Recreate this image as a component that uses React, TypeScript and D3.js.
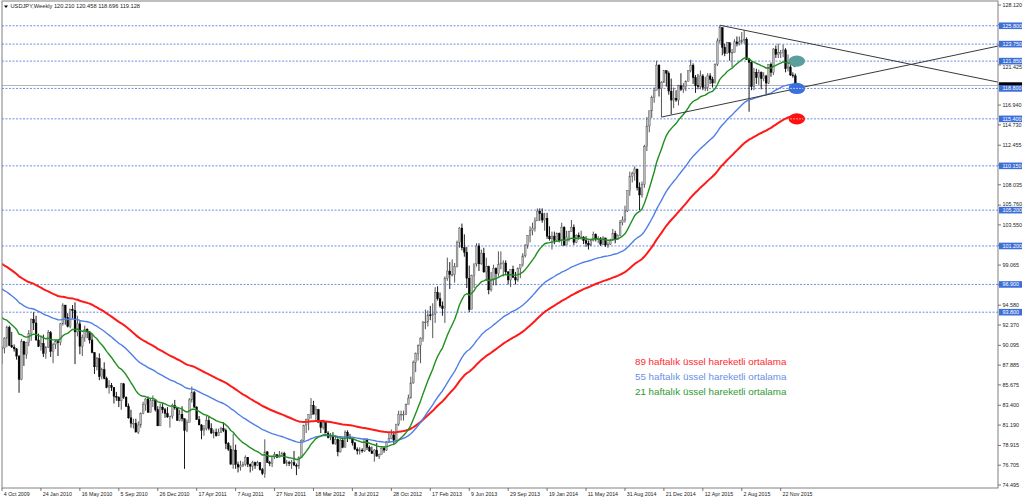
import React from "react";
import * as d3 from "d3";

// ---------- DATA ----------
const symbolTitle = "USDJPY,Weekly";
const firstWeek = "2009-10-04"; // Sunday of first weekly bar
const firstOpen = 89.75;

// weekly highs (Oct 2009 .. Jan 2016)
const weeklyHigh = [
  // 2009
  90.0, 91.0, 92.3, 92.3, 91.6, 90.2, 89.8, 89.0, 90.8, 90.6, 90.5, 91.8,
  // 2010
  93.1, 93.8, 93.4, 91.4, 91.2, 91.3, 90.0, 91.8, 91.7, 90.4, 90.7, 90.8, 92.6,
  94.8, 94.4, 93.7, 94.2, 94.6, 94.9, 93.4, 92.8, 91.3, 92.3, 92.0, 91.7, 91.4,
  89.3, 88.8, 89.2, 87.6, 88.2, 86.6, 86.2, 85.9, 85.4, 84.9, 84.4, 85.9, 85.9,
  84.4, 83.6, 82.9, 81.9, 81.9, 81.6, 82.6, 83.8, 84.2, 84.4, 84.2, 84.5, 84.1, 83.3,
  // 2011
  83.6, 83.6, 83.1, 83.2, 82.2, 83.6, 84.0, 83.2, 82.9, 83.3, 81.9, 81.8, 84.2,
  85.5, 85.0, 83.3, 82.2, 81.3, 81.2, 82.2, 82.1, 81.4, 80.7, 80.8, 80.8, 81.0,
  81.5, 80.8, 79.3, 78.9, 80.2, 79.0, 77.1, 77.2, 77.1, 77.8, 77.6, 76.9, 77.2,
  77.1, 77.2, 77.0, 76.4, 79.6, 78.3, 77.2, 77.7, 78.2, 77.9, 78.3, 78.2, 78.2,
  // 2012
  77.3, 77.2, 77.3, 78.3, 76.9, 77.7, 79.6, 81.2, 81.9, 82.4, 84.2, 83.9, 83.3,
  83.0, 81.6, 81.8, 81.6, 80.5, 80.3, 80.4, 79.9, 79.7, 79.7, 79.8, 80.6, 80.6,
  80.2, 79.8, 79.3, 78.7, 78.7, 78.6, 79.7, 79.7, 78.9, 78.8, 78.5, 79.2, 78.0,
  78.7, 78.8, 79.4, 80.4, 80.7, 80.5, 81.3, 82.8, 82.8, 82.8, 83.6, 84.6, 86.6,
  // 2013
  88.4, 89.3, 90.2, 91.0, 92.8, 94.1, 94.0, 94.5, 94.8, 96.6, 96.7, 96.0, 95.0,
  97.8, 99.9, 99.4, 99.7, 99.3, 101.8, 103.3, 103.7, 102.5, 101.1, 99.0, 98.0, 99.2,
  101.5, 101.5, 100.8, 101.0, 99.9, 99.0, 98.3, 99.1, 98.8, 100.6, 100.6, 99.6, 99.6,
  98.4, 98.6, 99.0, 98.3, 98.8, 99.1, 100.4, 101.4, 102.4, 103.4, 103.8, 104.4, 105.4,
  // 2014
  105.4, 105.4, 104.9, 104.9, 103.4, 102.8, 102.8, 102.7, 102.7, 103.8, 103.4, 102.9, 102.9,
  104.1, 103.6, 102.5, 102.7, 102.9, 102.3, 102.3, 101.8, 102.0, 102.8, 102.6, 102.3, 102.2,
  102.3, 102.1, 101.7, 102.0, 103.1, 102.9, 102.5, 104.1, 104.5, 105.7, 107.4, 109.5, 109.5,
  110.1, 109.2, 108.3, 108.4, 112.5, 115.6, 116.3, 118.0, 118.9, 121.9, 121.5, 119.6, 120.8,
  // 2015
  120.8, 120.7, 119.9, 118.9, 118.6, 119.2, 120.5, 119.4, 119.7, 120.8, 122.0, 121.6, 120.3,
  120.4, 120.8, 120.4, 120.1, 120.5, 120.5, 120.1, 121.6, 124.4, 125.86, 125.4, 123.8, 124.0,
  123.9, 123.2, 124.3, 124.6, 124.6, 125.1, 125.3, 124.5, 122.0, 121.8, 121.1, 121.0, 120.9,
  120.7, 120.6, 120.3, 121.5, 121.7, 123.3, 123.6, 123.8, 123.1, 123.7, 123.3, 122.6, 121.4,
  // 2016
  120.6, 120.458,
];

// weekly lows
const weeklyLow = [
  // 2009
  88.0, 89.2, 89.9, 90.0, 89.8, 89.4, 88.5, 84.8, 86.2, 87.8, 88.6, 90.0,
  // 2010
  90.6, 91.8, 90.6, 89.9, 89.5, 88.8, 88.6, 89.8, 88.8, 88.1, 89.7, 88.9, 90.1,
  92.3, 92.4, 92.1, 92.0, 93.1, 88.0, 91.1, 89.1, 88.9, 90.5, 90.9, 90.3, 89.2,
  86.9, 87.3, 86.2, 86.3, 86.3, 85.3, 84.7, 85.0, 83.6, 83.9, 83.2, 82.9, 84.1,
  83.2, 81.9, 80.9, 80.8, 80.4, 80.2, 80.9, 82.4, 82.8, 82.6, 82.7, 83.2, 82.7, 81.1,
  // 2011
  81.2, 82.5, 82.0, 82.0, 80.9, 81.9, 82.9, 81.7, 81.6, 81.6, 76.3, 80.4, 81.5,
  83.7, 83.1, 81.8, 81.2, 79.6, 80.0, 80.6, 80.6, 80.2, 79.7, 79.9, 80.0, 80.3,
  80.4, 78.5, 78.3, 76.8, 76.3, 76.3, 75.9, 76.1, 76.5, 76.6, 76.5, 75.9, 76.1,
  76.3, 76.6, 76.1, 75.6, 75.3, 77.0, 76.6, 76.5, 77.4, 77.5, 77.6, 77.8, 76.9,
  // 2012
  76.6, 76.6, 76.3, 76.7, 75.6, 76.3, 77.5, 79.4, 80.3, 80.6, 81.9, 82.4, 81.6,
  81.5, 80.3, 80.7, 80.3, 79.7, 79.5, 79.0, 79.0, 77.7, 78.1, 78.6, 78.8, 79.3,
  79.6, 78.9, 78.4, 77.9, 77.9, 78.1, 78.2, 78.4, 78.2, 78.0, 77.1, 77.7, 77.4,
  77.9, 78.1, 78.3, 79.2, 79.6, 79.1, 79.4, 81.1, 81.7, 81.7, 82.3, 83.6, 84.8,
  // 2013
  85.8, 87.1, 88.4, 88.1, 90.5, 91.9, 92.2, 92.9, 90.9, 92.6, 95.1, 94.3, 93.4,
  92.6, 97.3, 96.4, 97.8, 97.1, 98.8, 101.0, 100.7, 100.0, 96.5, 93.8, 94.1, 96.5,
  98.9, 98.4, 99.1, 98.2, 97.3, 95.8, 96.1, 96.8, 96.8, 97.8, 98.6, 97.8, 98.0,
  96.9, 96.6, 97.6, 96.9, 97.2, 97.6, 98.9, 99.9, 100.9, 101.6, 102.4, 102.8, 104.0,
  // 2014
  104.0, 103.8, 102.9, 102.0, 101.8, 100.8, 101.4, 101.7, 101.6, 101.2, 101.2, 101.4, 101.7,
  102.8, 101.3, 101.5, 101.9, 101.9, 101.4, 101.1, 100.8, 101.2, 101.7, 101.7, 101.5, 101.2,
  101.3, 101.1, 101.0, 101.3, 101.8, 101.5, 101.9, 102.3, 103.5, 103.8, 105.0, 106.8, 108.3,
  108.5, 107.4, 105.2, 106.6, 107.7, 111.8, 113.9, 115.5, 117.2, 118.6, 117.9, 115.6, 119.4,
  // 2015
  119.0, 118.1, 115.9, 116.6, 117.3, 116.9, 118.5, 118.3, 118.5, 119.6, 120.6, 119.3, 118.3,
  118.7, 118.7, 118.6, 118.5, 118.5, 119.3, 118.9, 119.9, 121.3, 123.8, 122.5, 122.4, 122.7,
  121.9, 121.2, 122.8, 123.5, 123.6, 123.8, 123.8, 122.0, 116.2, 118.6, 118.6, 119.3, 119.2,
  118.7, 119.6, 118.1, 119.3, 120.1, 120.3, 122.2, 122.2, 122.2, 122.3, 120.6, 120.7, 120.2,
  // 2016
  120.0, 118.696,
];

// weekly closes
const weeklyClose = [
  // 2009
  89.8, 90.9, 92.1, 90.1, 89.9, 89.7, 88.9, 86.3, 90.5, 89.1, 90.4, 91.4,
  // 2010
  93.0, 92.6, 90.7, 90.0, 90.3, 89.2, 89.9, 91.5, 89.4, 90.2, 90.5, 90.4, 92.5,
  94.6, 93.2, 92.2, 94.1, 94.0, 91.6, 92.5, 90.0, 91.0, 91.9, 91.6, 90.7, 89.3,
  87.7, 88.6, 86.6, 87.4, 86.4, 85.4, 85.6, 85.4, 84.4, 84.3, 83.9, 85.8, 84.3,
  83.3, 82.0, 81.4, 81.4, 80.4, 81.2, 82.5, 83.5, 84.1, 82.6, 83.9, 84.0, 82.9, 81.1,
  // 2011
  83.2, 82.9, 82.5, 82.1, 82.2, 83.4, 83.1, 81.7, 82.4, 81.9, 80.6, 81.5, 84.0,
  84.8, 83.2, 81.8, 81.2, 80.6, 80.8, 81.7, 80.8, 80.3, 80.4, 80.0, 80.4, 80.8,
  80.6, 79.1, 78.5, 76.8, 78.4, 76.8, 76.5, 76.7, 76.8, 77.6, 76.8, 76.6, 77.0,
  76.7, 77.0, 76.2, 75.8, 78.2, 77.0, 76.9, 77.7, 77.9, 77.6, 77.8, 78.0, 76.9,
  // 2012
  77.0, 76.9, 77.0, 76.7, 76.6, 77.6, 79.5, 81.2, 81.8, 82.4, 83.4, 82.4, 82.9,
  81.5, 80.9, 81.5, 80.3, 79.8, 79.9, 79.1, 79.6, 78.2, 79.5, 78.7, 80.4, 79.8,
  79.7, 79.2, 78.5, 78.3, 78.4, 78.3, 79.6, 78.7, 78.3, 78.0, 78.4, 77.7, 77.9,
  78.6, 78.4, 79.3, 79.7, 80.1, 79.5, 81.3, 82.4, 82.4, 82.4, 83.5, 84.2, 85.9,
  // 2013
  88.2, 89.2, 90.1, 90.9, 92.7, 92.7, 93.5, 93.4, 93.6, 96.0, 95.3, 94.5, 94.2,
  97.6, 98.4, 98.0, 98.0, 98.9, 101.6, 103.2, 101.0, 100.5, 97.6, 94.1, 97.9, 99.2,
  101.2, 99.2, 100.4, 98.3, 98.9, 96.3, 97.5, 98.7, 98.1, 99.1, 99.3, 99.3, 98.3,
  97.4, 98.6, 97.7, 97.4, 98.7, 99.1, 100.1, 101.3, 102.4, 102.9, 103.2, 104.0, 105.1,
  // 2014
  104.8, 104.1, 104.3, 102.3, 102.0, 102.3, 101.8, 102.6, 101.8, 103.3, 101.3, 102.2, 102.8,
  103.3, 101.6, 102.4, 102.2, 102.2, 101.8, 101.5, 101.3, 101.8, 102.5, 102.0, 102.0, 101.4,
  102.1, 101.3, 101.4, 101.8, 102.6, 102.0, 102.4, 103.8, 104.1, 105.1, 107.4, 109.0, 109.3,
  109.8, 107.7, 106.9, 108.1, 112.3, 114.6, 116.3, 117.8, 118.6, 121.4, 118.8, 119.5, 120.8,
  // 2015
  120.5, 118.5, 117.5, 117.7, 117.5, 119.1, 118.7, 119.0, 119.6, 120.8, 121.4, 120.0, 119.1,
  119.0, 120.2, 118.9, 118.9, 120.2, 119.8, 119.4, 121.5, 124.1, 125.6, 123.4, 122.7, 123.9,
  122.8, 122.8, 124.0, 123.8, 124.0, 124.2, 124.3, 122.0, 121.7, 119.0, 120.6, 120.0, 120.6,
  119.9, 120.2, 119.4, 121.5, 120.6, 123.2, 122.6, 122.8, 122.8, 123.1, 121.0, 121.2, 120.3,
  // 2016
  120.21, 119.128,
];

// horizontal support / resistance levels
const levelLines = [125.8, 123.75, 121.85, 118.8, 115.4, 110.15, 105.2, 101.2, 96.9, 93.8];

// right price-axis tick labels
const yTickValues = [
  128.12, 125.91, 123.635, 121.425, 119.215, 116.94, 114.73, 112.455, 110.245, 108.035,
  105.76, 103.55, 101.275, 99.065, 96.855, 94.58, 92.37, 90.095, 87.885, 85.675,
  83.4, 81.19, 78.915, 76.705, 74.495,
];

// bottom time-axis tick labels
const xTickLabels = [
  "4 Oct 2009", "24 Jan 2010", "16 May 2010", "5 Sep 2010", "26 Dec 2010", "17 Apr 2011",
  "7 Aug 2011", "27 Nov 2011", "18 Mar 2012", "8 Jul 2012", "28 Oct 2012", "17 Feb 2013",
  "9 Jun 2013", "29 Sep 2013", "19 Jan 2014", "11 May 2014", "31 Aug 2014", "21 Dec 2014",
  "12 Apr 2015", "2 Aug 2015", "22 Nov 2015",
];

// moving averages: period, value at first bar, colour, legend
const emaPeriods = [89, 55, 21];
const emaSeeds = [99.2, 96.4, 93.2];
const emaColors = ["#ff1a1a", "#4f7fe6", "#1f8f1f"];
const emaWidths = [2, 1.4, 1.4];
const legendLabels = [
  "89 haftalık üssel hareketli ortalama",
  "55 haftalık üssel hareketli ortalama",
  "21 haftalık üssel hareketli ortalama",
];
const legendColors = ["#ff2a2a", "#6a8fe6", "#2f9a2f"];

// trend lines (anchor week, price) -> extended to the right edge
const trendLines = [
  [{ week: "2014-12-14", price: 115.6 }, { week: "2015-11-22", price: 118.41 }],
  [{ week: "2015-05-31", price: 125.86 }, { week: "2015-11-22", price: 124.47 }],
];

// marker ellipses at EMA levels
const markerLevels = [121.85, 118.8, 115.4];
const markerColors = ["#5a9e9e", "#3b6fdc", "#ff0f0f"];

// ---------- LAYOUT ----------
const W = 1024;
const H = 501;
const plotLeft = 2;
const plotRight = 998;
const plotTop = 1;
const plotBottom = 488;
const smallFont = "'Liberation Sans', Arial, sans-serif";

const parseWeek = d3.utcParse("%Y-%m-%d");
const parseLabel = d3.utcParse("%d %b %Y");
const startDate = parseWeek(firstWeek) as Date;

const x = d3
  .scaleUtc()
  .domain([startDate, parseLabel("22 Nov 2015") as Date])
  .range([2, 780.7]);
const y = d3.scaleLinear().domain([74.495, 128.12]).range([485, 5]);

const bars = weeklyClose.map((c, i) => {
  const open = i === 0 ? firstOpen : weeklyClose[i - 1];
  return {
    date: d3.utcWeek.offset(startDate, i),
    open,
    close: c,
    high: Math.max(weeklyHigh[i], open, c),
    low: Math.min(weeklyLow[i], open, c),
  };
});

function ema(values: number[], period: number, seed: number) {
  const k = 2 / (period + 1);
  let e = seed;
  return values.map((v, i) => {
    if (i > 0) e = e + k * (v - e);
    return e;
  });
}

const emaSeries = emaPeriods.map((p, j) => ema(weeklyClose, p, emaSeeds[j]));

export default function App() {
  const fmt = d3.format(".3f");
  const last = bars[bars.length - 1];
  const line = d3
    .line<number>()
    .x((_, i) => x(bars[i].date))
    .y((v) => y(v));

  const lastX = x(last.date);
  // axis labels hidden beneath the level / price boxes are not drawn
  const boxed = [...levelLines, last.close];
  const visibleTicks = yTickValues.filter((v) => boxed.every((b) => Math.abs(y(v) - y(b)) > 3.2));
  // labels peeking out just below/above a box are nudged clear of it
  const tickTextY = (v: number) => {
    const yy = y(v);
    let off = 0;
    boxed.forEach((b) => {
      const d = yy - y(b);
      if (d > 0 && d < 6) off = 6 - d;
      if (d < 0 && d > -6) off = -(6 + d);
    });
    return yy + off + 2;
  };

  return (
    <svg
      width={W}
      height={H}
      style={{ position: "absolute", left: 0, top: 0, background: "#fff" }}
      fontFamily={smallFont}
    >
      <defs>
        <clipPath id="plot">
          <rect x={plotLeft} y={plotTop} width={plotRight - plotLeft} height={plotBottom - plotTop} />
        </clipPath>
      </defs>
      <rect x={0} y={0} width={W} height={H} fill="#fff" />

      <g clipPath="url(#plot)">
        {/* level lines */}
        {levelLines.map((v) => (
          <line
            key={v}
            x1={plotLeft}
            x2={plotRight}
            y1={y(v)}
            y2={y(v)}
            stroke="#6f8fe6"
            strokeWidth={1}
            strokeDasharray="2 1.5"
          />
        ))}
        {/* bid line */}
        <line x1={plotLeft} x2={plotRight} y1={y(last.close)} y2={y(last.close)} stroke="#b4b4b4" strokeWidth={1} />

        {/* candles */}
        {bars.map((b, i) => {
          const cx = x(b.date);
          const up = b.close >= b.open;
          const top = y(Math.max(b.open, b.close));
          const bot = y(Math.min(b.open, b.close));
          return (
            <g key={i}>
              <line x1={cx} x2={cx} y1={y(b.high)} y2={y(b.low)} stroke={up ? "#444" : "#000"} strokeWidth={0.9} />
              <rect
                x={cx - 0.9}
                y={top}
                width={1.8}
                height={Math.max(0.8, bot - top)}
                fill={up ? "#b8b8b8" : "#000"}
                stroke={up ? "#555" : "#000"}
                strokeWidth={0.4}
              />
            </g>
          );
        })}

        {/* EMAs */}
        {emaSeries.map((s, j) => (
          <path key={j} d={line(s) || ""} fill="none" stroke={emaColors[j]} strokeWidth={emaWidths[j]} strokeLinejoin="round" />
        ))}

        {/* trend lines */}
        {trendLines.map((t, j) => {
          const x1 = x(parseWeek(t[0].week) as Date);
          const y1 = y(t[0].price);
          const x2 = x(parseWeek(t[1].week) as Date);
          const y2 = y(t[1].price);
          const slope = (y2 - y1) / (x2 - x1);
          return (
            <line key={j} x1={x1} y1={y1} x2={plotRight} y2={y1 + slope * (plotRight - x1)} stroke="#3a3a3a" strokeWidth={1} />
          );
        })}

        {/* marker ellipses */}
        {markerLevels.map((v, j) => (
          <g key={v}>
            <ellipse cx={lastX + 1.5} cy={y(v)} rx={8.3} ry={5.6} fill={markerColors[j]} />
            {j > 0 && (
              <line
                x1={lastX - 5}
                x2={lastX + 8}
                y1={y(v)}
                y2={y(v)}
                stroke="#ffffff"
                strokeOpacity={0.75}
                strokeWidth={1}
                strokeDasharray="1.5 1.5"
              />
            )}
          </g>
        ))}
      </g>

      {/* legend */}
      {legendLabels.map((t, j) => (
        <text key={t} x={635} y={365 + j * 15} fontSize={9.8} fill={legendColors[j]} fontFamily="'Liberation Sans', Arial, sans-serif">
          {t}
        </text>
      ))}

      {/* frame */}
      <rect x={plotLeft} y={plotTop} width={plotRight - plotLeft} height={plotBottom - plotTop} fill="none" stroke="#808080" strokeWidth={1} />

      {/* header */}
      <path d="M4,5.5 L8,5.5 L6,8 Z" fill="#000" />
      <text x={10.5} y={8.2} fontSize={5.7} fill="#222">
        {`${symbolTitle}  ${fmt(last.open)} ${fmt(last.high)} ${fmt(last.low)} ${fmt(last.close)}`}
      </text>

      {/* right axis ticks */}
      {yTickValues.map((v) => (
        <line key={v} x1={plotRight} x2={plotRight + 3} y1={y(v)} y2={y(v)} stroke="#555" strokeWidth={0.8} />
      ))}
      {visibleTicks.map((v) => (
        <text key={v} x={1002.5} y={tickTextY(v)} fontSize={5.4} fill="#222">
          {fmt(v)}
        </text>
      ))}
      {/* bid price box (covered by the 118.800 level box) */}
      <rect x={999} y={y(last.close) - 3.2} width={23} height={6.4} fill="#000" />
      {/* level labels */}
      {levelLines.map((v) => (
        <g key={v}>
          <rect x={999} y={y(v) - 3.3} width={23} height={6.6} fill="#3d6fd8" />
          <text x={1002.5} y={y(v) + 2} fontSize={5.4} fill="#fff">
            {fmt(v)}
          </text>
        </g>
      ))}

      {/* bottom axis */}
      {xTickLabels.map((t) => {
        const xx = x(parseLabel(t) as Date);
        return (
          <g key={t}>
            <line x1={xx} x2={xx} y1={plotBottom} y2={plotBottom + 3} stroke="#555" strokeWidth={0.8} />
            <text x={xx + 1.8} y={496} fontSize={5.3} fill="#222">
              {t}
            </text>
          </g>
        );
      })}
    </svg>
  );
}
